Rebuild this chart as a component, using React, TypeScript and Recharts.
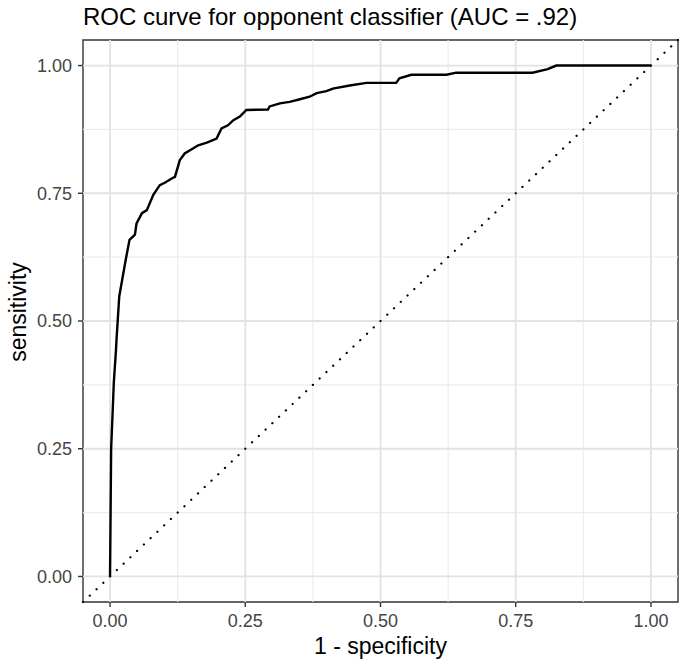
import { LineChart, Line, XAxis, YAxis, ReferenceLine, ReferenceArea } from "recharts";

// ROC curve points (false positive rate, true positive rate)
const fprValues = [
  0, 0.002, 0.004, 0.007, 0.011, 0.012, 0.017, 0.029, 0.036, 0.046, 0.049, 0.059,
  0.068, 0.08, 0.092, 0.102, 0.114, 0.12, 0.129, 0.138, 0.154, 0.163, 0.179, 0.197,
  0.206, 0.218, 0.228, 0.24, 0.252, 0.292, 0.295, 0.314, 0.332, 0.351, 0.369, 0.382,
  0.4, 0.412, 0.443, 0.474, 0.529, 0.535, 0.557, 0.622, 0.64, 0.781, 0.809, 0.825, 1.0,
];
const tprValues = [
  0, 0.249, 0.301, 0.38, 0.444, 0.464, 0.548, 0.62, 0.659, 0.669, 0.691, 0.711,
  0.717, 0.747, 0.766, 0.771, 0.779, 0.782, 0.815, 0.828, 0.838, 0.844, 0.849, 0.857,
  0.877, 0.883, 0.893, 0.9, 0.913, 0.914, 0.92, 0.926, 0.929, 0.934, 0.939, 0.946,
  0.95, 0.955, 0.961, 0.966, 0.966, 0.975, 0.982, 0.982, 0.986, 0.986, 0.993, 1.0, 1.0,
];

const majorTicks = [0, 0.25, 0.5, 0.75, 1];
const minorTicks = [0.125, 0.375, 0.625, 0.875];

const title = "ROC curve for opponent classifier (AUC = .92)";
const xTitle = "1 - specificity";
const yTitle = "sensitivity";

const data = fprValues.map((fpr, i) => ({ fpr, tpr: tprValues[i] }));

const FONT = '"Liberation Sans", Arial, Helvetica, sans-serif';
const tickStyle = { fill: "#444", fontSize: 18, fontFamily: FONT };

export default function App() {
  return (
    <div
      style={{
        position: "absolute",
        left: 0,
        top: 0,
        width: 681,
        height: 661,
        background: "#fff",
      }}
    >
      <LineChart
        width={681}
        height={661}
        data={data}
        margin={{ top: 40, right: 3, bottom: 29, left: 23 }}
      >
        <XAxis
          type="number"
          dataKey="fpr"
          domain={[-0.05, 1.05]}
          ticks={majorTicks}
          tickFormatter={(v: number) => v.toFixed(2)}
          allowDataOverflow
          height={30}
          axisLine={false}
          tickLine={{ stroke: "#333", strokeWidth: 1.4 }}
          tickSize={5}
          tickMargin={7}
          tick={tickStyle}
        />
        <YAxis
          type="number"
          domain={[-0.05, 1.05]}
          ticks={majorTicks}
          tickFormatter={(v: number) => v.toFixed(2)}
          allowDataOverflow
          width={60}
          axisLine={false}
          tickLine={{ stroke: "#333", strokeWidth: 1.4 }}
          tickSize={5}
          tickMargin={6}
          tick={tickStyle}
        />
        {minorTicks.map((t) => (
          <ReferenceLine key={"mx" + t} x={t} stroke="#ececec" strokeWidth={1.1} />
        ))}
        {minorTicks.map((t) => (
          <ReferenceLine key={"my" + t} y={t} stroke="#ececec" strokeWidth={1.1} />
        ))}
        {majorTicks.map((t) => (
          <ReferenceLine key={"x" + t} x={t} stroke="#e2e2e2" strokeWidth={1.8} />
        ))}
        {majorTicks.map((t) => (
          <ReferenceLine key={"y" + t} y={t} stroke="#e2e2e2" strokeWidth={1.8} />
        ))}
        <ReferenceLine
          segment={[
            { x: -0.05, y: -0.05 },
            { x: 1.05, y: 1.05 },
          ]}
          stroke="#000"
          strokeWidth={2.2}
          strokeDasharray="0.1 9.2"
          strokeLinecap="round"
        />
        <Line
          type="linear"
          dataKey="tpr"
          stroke="#000"
          strokeWidth={2.4}
          dot={false}
          isAnimationActive={false}
        />
        <ReferenceArea
          x1={-0.05}
          x2={1.05}
          y1={-0.05}
          y2={1.05}
          fill="none"
          fillOpacity={0}
          stroke="#333"
          strokeWidth={1.4}
        />
      </LineChart>
      <svg
        width={681}
        height={661}
        style={{ position: "absolute", left: 0, top: 0, pointerEvents: "none" }}
      >
        <text x={83} y={25} fontSize={24} fontFamily={FONT} fill="#000">
          {title}
        </text>
        <text x={380.5} y={654} fontSize={23} fontFamily={FONT} fill="#000" textAnchor="middle">
          {xTitle}
        </text>
        <text
          x={0}
          y={0}
          fontSize={23}
          fontFamily={FONT}
          fill="#000"
          textAnchor="middle"
          transform="translate(26 312) rotate(-90)"
        >
          {yTitle}
        </text>
      </svg>
    </div>
  );
}
